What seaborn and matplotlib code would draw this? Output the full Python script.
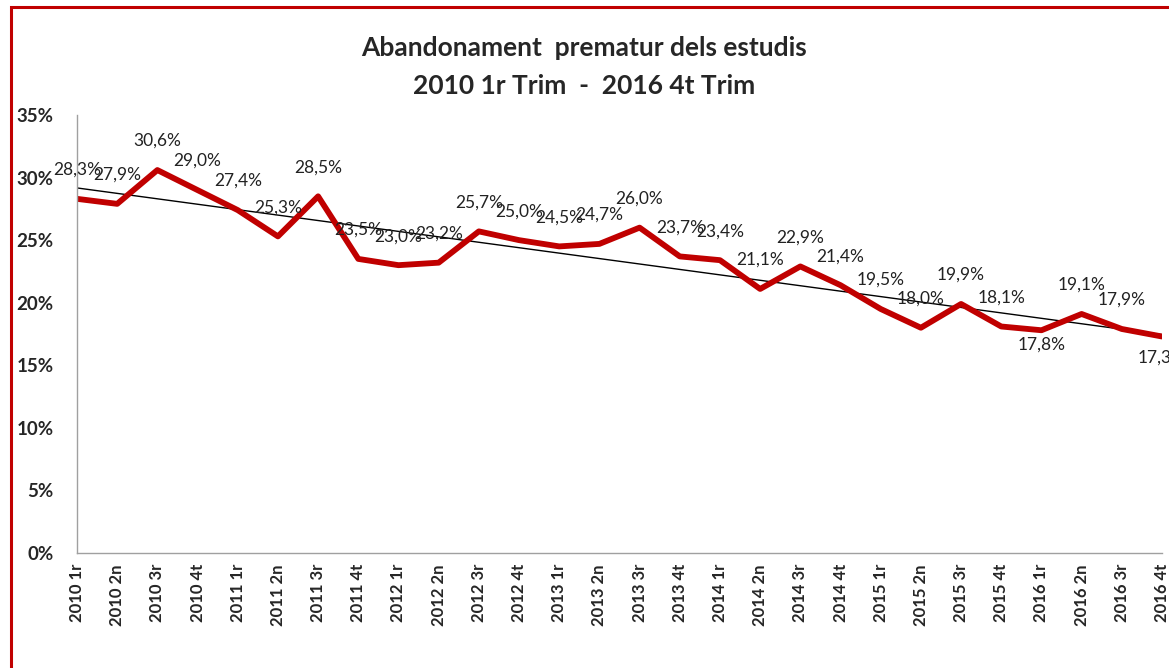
import numpy as np
import pandas as pd
import matplotlib
matplotlib.use("Agg")
import matplotlib.pyplot as plt
from matplotlib.patches import Rectangle
import seaborn as sns

quarters = ["2010 1r", "2010 2n", "2010 3r", "2010 4t",
            "2011 1r", "2011 2n", "2011 3r", "2011 4t",
            "2012 1r", "2012 2n", "2012 3r", "2012 4t",
            "2013 1r", "2013 2n", "2013 3r", "2013 4t",
            "2014 1r", "2014 2n", "2014 3r", "2014 4t",
            "2015 1r", "2015 2n", "2015 3r", "2015 4t",
            "2016 1r", "2016 2n", "2016 3r", "2016 4t"]
rate = [28.3, 27.9, 30.6, 29.0, 27.4, 25.3, 28.5, 23.5, 23.0, 23.2, 25.7, 25.0,
        24.5, 24.7, 26.0, 23.7, 23.4, 21.1, 22.9, 21.4, 19.5, 18.0, 19.9, 18.1,
        17.8, 19.1, 17.9, 17.3]
y_ticks = [0, 5, 10, 15, 20, 25, 30, 35]

sns.set_theme(style="white")
plt.rcParams['font.family'] = ['Lato', 'DejaVu Sans']

df = pd.DataFrame({"idx": np.arange(len(quarters)), "rate": rate})

fig = plt.figure(figsize=(11.69, 6.68), dpi=100)
ax = fig.add_axes([77/1169, 1 - 553/668, (1162 - 77)/1169, (553 - 115)/668])

# trend line (linear fit)
coef = np.polyfit(df["idx"], df["rate"], 1)
df["trend"] = np.polyval(coef, df["idx"])
sns.lineplot(data=df, x="idx", y="trend", ax=ax, color="black", lw=1.0, sort=False)
sns.lineplot(data=df, x="idx", y="rate", ax=ax, color="#C00000", lw=4.2, sort=False)

ax.set_xlim(0, len(quarters) - 1)
ax.set_ylim(0, 35)
ax.set_yticks(y_ticks)
ax.set_yticklabels([f"{v}%" for v in y_ticks], fontsize=13.5, fontweight="bold")
ax.set_xticks(df["idx"])
ax.set_xticklabels(quarters, rotation=90, fontsize=12, fontweight="bold")
ax.set_xlabel("")
ax.set_ylabel("")
for s in ["top", "right"]:
    ax.spines[s].set_visible(False)
for s in ["left", "bottom"]:
    ax.spines[s].set_color("#A0A0A0")
    ax.spines[s].set_linewidth(1.0)
ax.tick_params(axis="both", which="both", direction="out", length=5, width=1,
               color="#A0A0A0", pad=3)
ax.tick_params(axis="y", pad=12)

below = {24: -14, 27: -21}
for i, v in enumerate(rate):
    dy = below.get(i, 29)
    ax.annotate(f"{v:.1f}%".replace(".", ","), (i, v), xytext=(0, dy),
                textcoords="offset pixels", ha="center", va="center",
                fontsize=12.5, color="#222222", clip_on=False)

fig.text(0.5, 1 - 48/668, "Abandonament  prematur dels estudis", ha="center",
         va="center", fontsize=19, fontweight="bold")
fig.text(0.5, 1 - 86/668, "2010 1r Trim  -  2016 4t Trim", ha="center",
         va="center", fontsize=19, fontweight="bold")

fig.patches.append(Rectangle((11/1169, -0.1), 1.2, 1.1 - 7/668, transform=fig.transFigure,
                             fill=False, edgecolor="#C00000", lw=2.2, zorder=10))

fig.savefig("out.png", dpi=100)
